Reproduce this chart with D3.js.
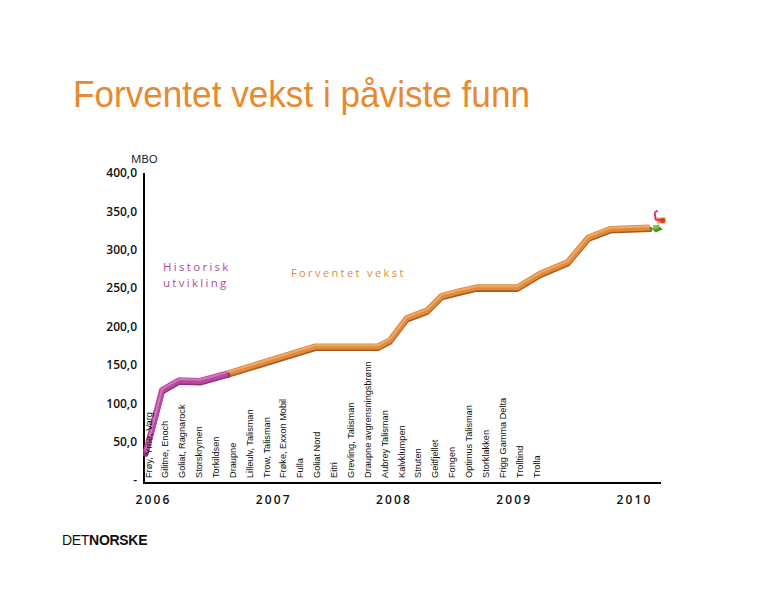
<!DOCTYPE html>
<html><head><meta charset="utf-8">
<script src="https://cdn.jsdelivr.net/npm/d3@7"></script>
<style>body{margin:0;background:#fff}svg{display:block}</style>
</head><body>
<svg id="c" width="776" height="600"></svg>
<script>
// ---- data ----
const historicDates = [2005.94, 2006.075, 2006.216, 2006.39, 2006.62];
const historicValues = [36, 117, 130, 129, 139];
const forecastDates = [2006.62, 2007.35, 2007.87, 2007.97, 2008.11, 2008.28, 2008.40, 2008.55, 2008.69, 2009.03, 2009.22, 2009.45, 2009.62, 2009.80, 2010.13];
const forecastValues = [139, 174, 174, 182, 211, 221, 240, 246, 251, 251, 269, 284, 316, 327, 329];
const fields = ["Frøy, Yme, Varg","Gilitne, Enoch","Goliat, Ragnarock","Storskrymen","Torkildsen","Draupne","Lilleulv, Talisman","Trow, Talisman","Frøke, Exxon Mobil","Fulla","Goliat Nord","Eitri","Grevling, Talisman","Draupne avgrensningsbrønn","Aubrey Talisman","Kalvklumpen","Struten","Geitfjellet","Fongen","Optimus Talisman","Storklakken","Frigg Gamma Delta","Trolltind","Trolla"];
const yTicks = [0, 50, 100, 150, 200, 250, 300, 350, 400];
const yearTicks = [2006, 2007, 2008, 2009, 2010];

const svg = d3.select("#c");
const x = d3.scaleLinear().domain([2006, 2010]).range([153, 634]);
const y = d3.scaleLinear().domain([0, 400]).range([480, 173]);
const xf = d3.scalePoint().domain(fields).range([148, 536]);

// title
svg.append("text").attr("x", 73).attr("y", 107)
  .attr("font-family", "Liberation Sans, Arial, sans-serif").attr("font-size", 37.5)
  .attr("textLength", 457).attr("lengthAdjust", "spacingAndGlyphs")
  .attr("fill", "#e8892e").text("Forventet vekst i påviste funn");

// MBO
svg.append("text").attr("x", 131).attr("y", 163)
  .attr("font-family", "Open Sans, DejaVu Sans, sans-serif").attr("font-size", 11.5)
  .attr("fill", "#111").text("MBO");

// y axis
const yAxis = d3.axisLeft(y).tickValues(yTicks).tickSize(0).tickPadding(7)
  .tickFormat(d => d === 0 ? "-" : d3.format(".1f")(d).replace(".", ","));
const gy = svg.append("g").attr("transform", "translate(144,0)").call(yAxis);
gy.select(".domain").remove();
gy.selectAll("text").attr("font-family", "Open Sans, DejaVu Sans, sans-serif")
  .attr("font-size", 12).attr("fill", "#111").attr("font-weight", 600);
svg.append("line").attr("x1", 144).attr("x2", 144).attr("y1", y(400)).attr("y2", 484)
  .attr("stroke", "#000").attr("stroke-width", 2);
svg.append("line").attr("x1", 143).attr("x2", 661).attr("y1", 483).attr("y2", 483)
  .attr("stroke", "#000").attr("stroke-width", 2);

// year labels
const xAxis = d3.axisBottom(x).tickValues(yearTicks).tickSize(0).tickPadding(12).tickFormat(d3.format("d"));
const gx = svg.append("g").attr("transform", "translate(0,483)").call(xAxis);
gx.select(".domain").remove();
gx.selectAll("text").attr("font-family", "Open Sans, DejaVu Sans, sans-serif")
  .attr("font-size", 12).attr("font-weight", 600).attr("fill", "#111").attr("letter-spacing", 2.2);

// curves
const hist = historicDates.map((d, i) => [d, historicValues[i]]);
const fore = forecastDates.map((d, i) => [d, forecastValues[i]]);
const line = d3.line().x(d => x(d[0])).y(d => y(d[1])).curve(d3.curveLinear);
function tube(data, dark, mid, light) {
  const g = svg.append("g");
  g.append("path").attr("d", line(data)).attr("transform", "translate(0,1.8)")
    .attr("fill", "none").attr("stroke", dark).attr("stroke-width", 5.5).attr("stroke-linejoin", "round").attr("stroke-linecap", "round");
  g.append("path").attr("d", line(data))
    .attr("fill", "none").attr("stroke", mid).attr("stroke-width", 6).attr("stroke-linejoin", "round").attr("stroke-linecap", "butt");
  g.append("path").attr("d", line(data)).attr("transform", "translate(0,-1.2)")
    .attr("fill", "none").attr("stroke", light).attr("stroke-width", 2).attr("stroke-linejoin", "round").attr("opacity", 0.75);
}
tube(fore, "#a85a22", "#e08a3c", "#f4b37a");
tube(hist, "#8e2f7a", "#b8489e", "#d78ac5");

// field labels (drawn on top of the curve)
svg.append("g").selectAll("text").data(fields).join("text")
  .attr("transform", d => `translate(${xf(d) + 3.5},478) rotate(-90)`)
  .attr("font-family", "Liberation Sans, Arial, sans-serif").attr("font-size", 9.2)
  .attr("fill", "#111").text(d => d);

// decoration at end of forecast
const last = fore[fore.length - 1];
const ex = x(last[0]), ey = y(last[1]);
const deco = svg.append("g").attr("transform", `translate(${ex},${ey})`);
deco.append("path").attr("d", "M2,1 L10,-1 L13,2 L6,5 Z").attr("fill", "#3a9a2a");
deco.append("path").attr("d", "M3,-2 L10,-3 L9,1 L4,2 Z").attr("fill", "#7cc242");
deco.append("rect").attr("x", 7).attr("y", -10).attr("width", 9).attr("height", 6).attr("fill", "#f0a030");
deco.append("circle").attr("cx", 13).attr("cy", -7).attr("r", 2.5).attr("fill", "#d23a2a");
deco.append("path").attr("d", "M5,-15 L8,-17 M5,-15 L6,-8 L12,-7").attr("fill", "none")
  .attr("stroke", "#d0308a").attr("stroke-width", 2);

// annotations
svg.append("text").attr("x", 163).attr("y", 271).attr("font-family", "Open Sans, DejaVu Sans, sans-serif")
  .attr("font-size", 11.5).attr("fill", "#b04a9a").attr("letter-spacing", 2.3).text("Historisk");
svg.append("text").attr("x", 163).attr("y", 287).attr("font-family", "Open Sans, DejaVu Sans, sans-serif")
  .attr("font-size", 11.5).attr("fill", "#b04a9a").attr("letter-spacing", 2.3).text("utvikling");
svg.append("text").attr("x", 291).attr("y", 277).attr("font-family", "Open Sans, DejaVu Sans, sans-serif")
  .attr("font-size", 11).attr("fill", "#e08a3c").attr("letter-spacing", 2.4).text("Forventet vekst");

// logo
const logo = svg.append("text").attr("x", 62).attr("y", 545)
  .attr("font-family", "Liberation Sans, Arial, sans-serif").attr("font-size", 14).attr("fill", "#111").attr("letter-spacing", -0.3);
logo.append("tspan").text("DET");
logo.append("tspan").attr("font-weight", "bold").text("NORSKE");
</script>
</body></html>
